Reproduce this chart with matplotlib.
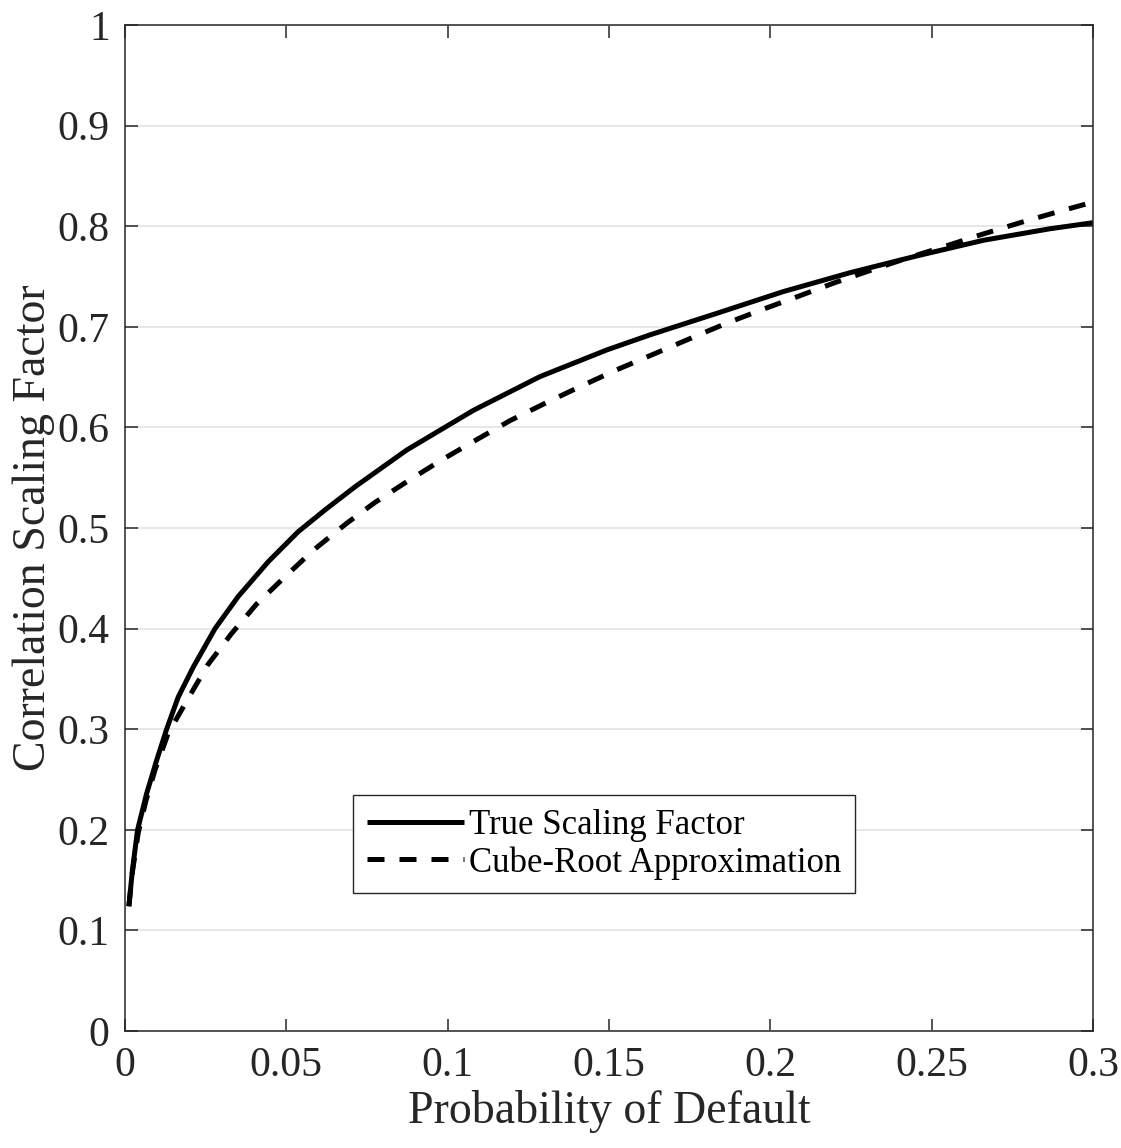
import matplotlib.pyplot as plt

plt.rcParams['font.family'] = ['Liberation Serif', 'DejaVu Serif']

# values
pd_true = [0.0012, 0.0023, 0.0039, 0.0067, 0.0098, 0.0129, 0.0165, 0.0212, 0.0279,
           0.0351, 0.0444, 0.0537, 0.0620, 0.0713, 0.0873, 0.108, 0.1286, 0.1493,
           0.1627, 0.1834, 0.204, 0.2247, 0.2453, 0.266, 0.2867, 0.30]
true_factor = [0.124, 0.160, 0.200, 0.236, 0.269, 0.300, 0.332, 0.362, 0.400,
               0.432, 0.4665, 0.4964, 0.518, 0.541, 0.5775, 0.617, 0.6505, 0.677,
               0.692, 0.7134, 0.735, 0.7538, 0.7704, 0.786, 0.7975, 0.8035]

pd_cube = [0.0012, 0.0023, 0.0041, 0.0065, 0.0093, 0.0134, 0.0196, 0.0256, 0.0329,
           0.0408, 0.0496, 0.0584, 0.0687, 0.0775, 0.0878, 0.0981, 0.1088, 0.1193,
           0.1302, 0.141, 0.1522, 0.1643, 0.1746, 0.186, 0.1971, 0.2084, 0.22,
           0.2314, 0.2428, 0.2541, 0.2657, 0.2774, 0.2892, 0.30]
cube_factor = [0.124, 0.158, 0.197, 0.229, 0.2594, 0.296, 0.3307, 0.3638, 0.3946,
               0.4245, 0.4516, 0.478, 0.5047, 0.5255, 0.547, 0.5676, 0.5875, 0.6067,
               0.624, 0.6405, 0.657, 0.6735, 0.6876, 0.703, 0.7167, 0.730, 0.7439,
               0.7565, 0.7687, 0.780, 0.792, 0.8035, 0.8144, 0.824]

xticks = [0, 0.05, 0.1, 0.15, 0.2, 0.25, 0.3]
xlabels = ['0', '0.05', '0.1', '0.15', '0.2', '0.25', '0.3']
yticks = [0, 0.1, 0.2, 0.3, 0.4, 0.5, 0.6, 0.7, 0.8, 0.9, 1]
ylabels = ['0', '0.1', '0.2', '0.3', '0.4', '0.5', '0.6', '0.7', '0.8', '0.9', '1']

fig = plt.figure(figsize=(11.21, 11.48), dpi=100)
ax = fig.add_axes([0.1115, 0.1019, 0.8635, 0.8763])

ax.plot(pd_true, true_factor, color='black', lw=3.6, solid_capstyle='butt',
        solid_joinstyle='round', label='True Scaling Factor')
ax.plot(pd_cube, cube_factor, color='black', lw=3.6, dashes=(3.4, 3.0),
        dash_capstyle='butt', label='Cube-Root Approximation')

ax.set_xlim(0, 0.3)
ax.set_ylim(0, 1)
ax.set_xticks(xticks)
ax.set_xticklabels(xlabels)
ax.set_yticks(yticks)
ax.set_yticklabels(ylabels)
ax.yaxis.grid(True, color='#e3e3e3', lw=1.2)
ax.set_axisbelow(True)

ax.tick_params(direction='in', length=9, width=1.1, colors='#262626',
               labelsize=30, top=True, right=True, pad=11)
for s in ax.spines.values():
    s.set_color('#262626')
    s.set_linewidth(1.1)

ax.set_xlabel('Probability of Default', fontsize=33, color='#262626', labelpad=4)
ax.set_ylabel('Correlation Scaling Factor', fontsize=33, color='#262626', labelpad=2)

leg = ax.legend(loc='upper left', bbox_to_anchor=(0.2355, 0.2346), fontsize=25,
                handlelength=2.8, handletextpad=0.15, borderpad=0.4,
                labelspacing=0.12, fancybox=False, framealpha=1,
                borderaxespad=0)
leg.get_frame().set_edgecolor('#262626')
leg.get_frame().set_linewidth(1.0)

plt.savefig('out.png', dpi=100)
